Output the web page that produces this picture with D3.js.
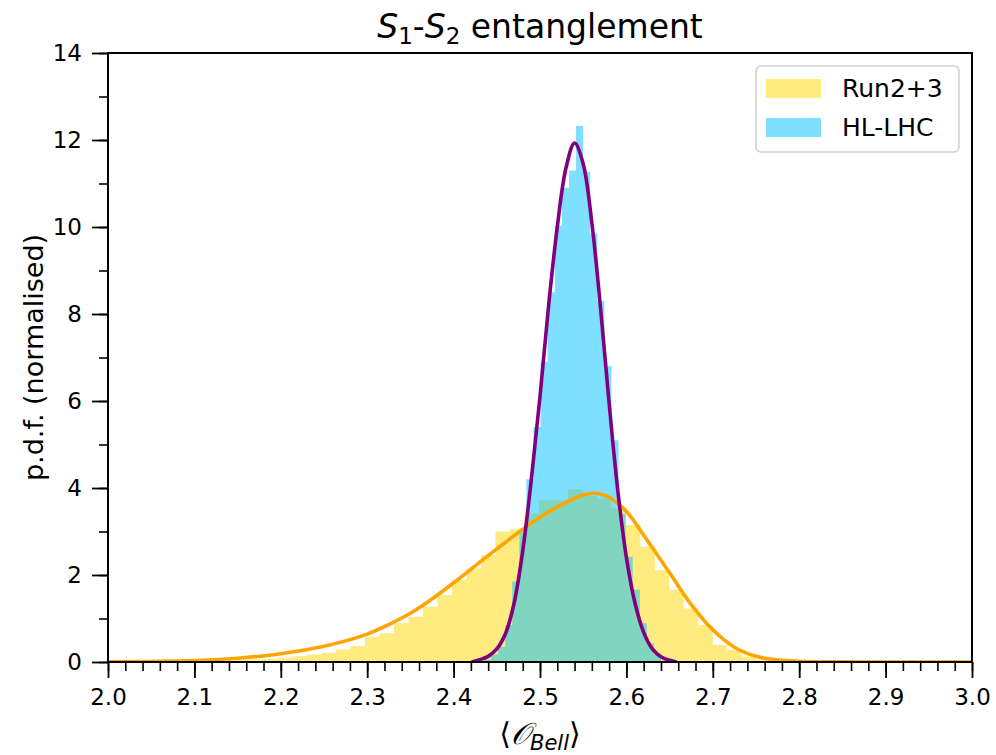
<!DOCTYPE html>
<html>
<head>
<meta charset="utf-8">
<script src="https://cdn.jsdelivr.net/npm/d3@7"></script>
<style>
  body { margin: 0; background: #fff; }
  svg { display: block; font-family: "DejaVu Sans", sans-serif; }
</style>
</head>
<body>
<div id="chart"></div>
<script>
// Run2+3 histogram (density per bin), bins start at run23BinStart
const run23BinStart = 2.046;
const run23BinWidth = 0.01677;
const run23Density = [
  0.01, 0.05, 0.01, 0.02, 0.02, 0.03, 0.04, 0.05, 0.07, 0.10,
  0.13, 0.17, 0.21, 0.29, 0.37, 0.58, 0.66, 0.89, 1.04, 1.27,
  1.54, 1.89, 2.15, 2.46, 3.00, 3.05, 3.42, 3.72, 3.72, 3.97,
  3.82, 3.76, 3.55, 3.15, 2.65, 2.11, 1.66, 1.23, 0.85, 0.39,
  0.28, 0.12, 0.05, 0.02, 0.00
];

// HL-LHC histogram
const hlBinStart = 2.4269;
const hlBinWidth = 0.0082;
const hlDensity = [
  0.02, 0.06, 0.18, 0.35, 0.85, 1.85, 3.00, 4.20, 5.40, 6.90,
  8.50, 10.03, 10.90, 11.30, 12.32, 11.27, 9.85, 8.30, 6.80, 5.10,
  3.40, 2.42, 1.66, 0.89, 0.43, 0.16, 0.03
];

// fitted curves, points [x, pdf]
const run23Fit = [
  [2.000, 0.004], [2.050, 0.012], [2.100, 0.032], [2.150, 0.085], [2.200, 0.19],
  [2.250, 0.36], [2.300, 0.64], [2.325, 0.86], [2.350, 1.12], [2.375, 1.45],
  [2.400, 1.82], [2.425, 2.21], [2.450, 2.60], [2.475, 2.98], [2.500, 3.33],
  [2.525, 3.62], [2.550, 3.84], [2.562, 3.88], [2.578, 3.81], [2.600, 3.46],
  [2.625, 2.77], [2.650, 2.05], [2.675, 1.32], [2.700, 0.74], [2.725, 0.34],
  [2.750, 0.13], [2.775, 0.05], [2.800, 0.018], [2.850, 0.003], [2.900, 0.0005],
  [3.000, 0.0]
];
const hlFit = [
  [2.421, 0.0], [2.43, 0.05], [2.44, 0.13], [2.45, 0.30], [2.46, 0.65],
  [2.47, 1.35], [2.48, 2.55], [2.49, 4.20], [2.50, 6.10], [2.51, 8.20],
  [2.52, 10.0], [2.53, 11.35], [2.54, 11.93], [2.55, 11.45], [2.56, 10.1],
  [2.57, 8.15], [2.58, 5.95], [2.59, 3.95], [2.60, 2.40], [2.61, 1.35],
  [2.62, 0.68], [2.63, 0.30], [2.64, 0.12], [2.65, 0.04], [2.658, 0.0]
];

const xTicks = [2.0, 2.1, 2.2, 2.3, 2.4, 2.5, 2.6, 2.7, 2.8, 2.9, 3.0];
const yTicks = [0, 2, 4, 6, 8, 10, 12, 14];
const legendLabels = ["Run2+3", "HL-LHC"];

const width = 996, height = 755;
const plot = { left: 108, right: 972, top: 53, bottom: 662 };

const svg = d3.select("#chart").append("svg")
  .attr("width", width)
  .attr("height", height);

svg.append("rect").attr("width", width).attr("height", height).attr("fill", "#fff");

const x = d3.scaleLinear().domain([2.0, 3.0]).range([plot.left, plot.right]);
const y = d3.scaleLinear().domain([0, 14]).range([plot.bottom, plot.top]);

svg.append("clipPath").attr("id", "clip")
  .append("rect")
  .attr("x", plot.left).attr("y", plot.top)
  .attr("width", plot.right - plot.left).attr("height", plot.bottom - plot.top);

const area = svg.append("g").attr("clip-path", "url(#clip)");

// histograms as one stepped area each (no seams between bars)
const stepArea = d3.area()
  .x((d) => x(d[0]))
  .y0(y(0))
  .y1((d) => y(d[1]))
  .curve(d3.curveStepAfter);

const drawHist = (start, w, values, color) => {
  const pts = values.map((v, i) => [start + i * w, v]);
  pts.push([start + values.length * w, values[values.length - 1]]);
  area.append("path")
    .datum(pts)
    .attr("d", stepArea)
    .attr("fill", color)
    .attr("fill-opacity", 0.5);
};
drawHist(run23BinStart, run23BinWidth, run23Density, "#ffd700");
drawHist(hlBinStart, hlBinWidth, hlDensity, "#00bfff");

// fits
const line = d3.line()
  .x((d) => x(d[0]))
  .y((d) => y(d[1]))
  .curve(d3.curveCatmullRom.alpha(0.5));

area.append("path").datum(run23Fit)
  .attr("d", line).attr("fill", "none")
  .attr("stroke", "#ffa500").attr("stroke-width", 3.6)
  .attr("stroke-linejoin", "round");
area.append("path").datum(hlFit)
  .attr("d", line).attr("fill", "none")
  .attr("stroke", "#800080").attr("stroke-width", 3.6)
  .attr("stroke-linejoin", "round");

// X axis
const xMinor = d3.range(0, 51).map((i) => 2 + i * 0.02);
svg.append("g")
  .attr("transform", "translate(0," + plot.bottom + ")")
  .call(d3.axisBottom(x).tickValues(xMinor).tickSize(9).tickFormat(""))
  .call((g) => g.select(".domain").remove())
  .call((g) => g.selectAll("line").attr("stroke-width", 1.6));
const xAxis = svg.append("g")
  .attr("transform", "translate(0," + plot.bottom + ")")
  .call(d3.axisBottom(x).tickValues(xTicks).tickSize(16).tickPadding(11).tickFormat(d3.format(".1f")));
xAxis.select(".domain").remove();
xAxis.selectAll("line").attr("stroke-width", 1.8);
xAxis.selectAll("text").attr("font-size", 23).attr("fill", "#000")
  .attr("font-family", "DejaVu Sans");

// Y axis
const yMinor = d3.range(0, 15);
svg.append("g")
  .attr("transform", "translate(" + plot.left + ",0)")
  .call(d3.axisLeft(y).tickValues(yMinor).tickSize(9).tickFormat(""))
  .call((g) => g.select(".domain").remove())
  .call((g) => g.selectAll("line").attr("stroke-width", 1.6));
const yAxis = svg.append("g")
  .attr("transform", "translate(" + plot.left + ",0)")
  .call(d3.axisLeft(y).tickValues(yTicks).tickSize(16).tickPadding(10).tickFormat(d3.format("d")));
yAxis.select(".domain").remove();
yAxis.selectAll("line").attr("stroke-width", 1.8);
yAxis.selectAll("text").attr("font-size", 23).attr("fill", "#000")
  .attr("font-family", "DejaVu Sans");

// frame
svg.append("rect")
  .attr("x", plot.left).attr("y", plot.top)
  .attr("width", plot.right - plot.left).attr("height", plot.bottom - plot.top)
  .attr("fill", "none").attr("stroke", "#000").attr("stroke-width", 2);

// title
const title = svg.append("text")
  .attr("x", (plot.left + plot.right) / 2).attr("y", 38)
  .attr("text-anchor", "middle").attr("font-size", 33);
title.append("tspan").attr("font-style", "italic").text("S");
title.append("tspan").attr("font-size", 23).attr("dy", 6).text("1");
title.append("tspan").attr("dy", -6).text("-");
title.append("tspan").attr("font-style", "italic").text("S");
title.append("tspan").attr("font-size", 23).attr("dy", 6).text("2");
title.append("tspan").attr("dy", -6).text(" entanglement");

// axis labels
const xlab = svg.append("text")
  .attr("x", (plot.left + plot.right) / 2).attr("y", 744)
  .attr("text-anchor", "middle").attr("font-size", 30);
xlab.append("tspan").text("\u27E8");
xlab.append("tspan").attr("font-style", "italic").text("\uD835\uDCAA");
xlab.append("tspan").attr("font-size", 21).attr("font-style", "italic").attr("dy", 6).text("Bell");
xlab.append("tspan").attr("dy", -6).text("\u27E9");

svg.append("text")
  .attr("transform", "translate(43," + (plot.top + plot.bottom) / 2 + ") rotate(-90)")
  .attr("text-anchor", "middle").attr("font-size", 27)
  .text("p.d.f. (normalised)");

// legend
const legend = svg.append("g").attr("id", "legend");
legend.append("rect")
  .attr("x", 756).attr("y", 66).attr("width", 203).attr("height", 86).attr("rx", 5)
  .attr("fill", "#fff").attr("fill-opacity", 0.8)
  .attr("stroke", "#d0d0d0").attr("stroke-width", 1.5);
const legendColors = ["#ffd700", "#00bfff"];
legendLabels.forEach((label, i) => {
  legend.append("rect")
    .attr("x", 766).attr("y", 79 + i * 39).attr("width", 55).attr("height", 19)
    .attr("fill", legendColors[i]).attr("fill-opacity", 0.5);
  legend.append("text")
    .attr("x", 842).attr("y", 97 + i * 39).attr("font-size", 25)
    .text(label);
});
</script>
</body>
</html>
